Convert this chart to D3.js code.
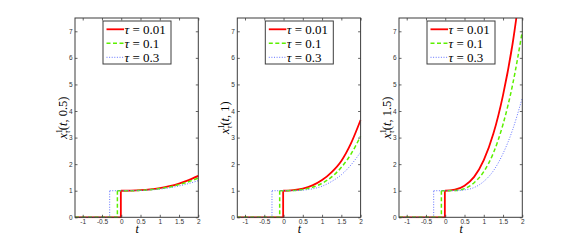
<!DOCTYPE html>
<html>
<head>
<meta charset="utf-8">
<script src="https://cdn.jsdelivr.net/npm/d3@7"></script>
<style>
  body { margin: 0; background: #fff; }
  svg { display: block; }
</style>
</head>
<body>
<div id="container"></div>
<script>
/* CONSTANTS AND GLOBALS */
const width = 578,
  height = 245;

const panelLeft = [75, 237.3, 399],
  panelTop = 18,
  panelW = 123.3,
  panelH = 199.3;

// DATA
const sValues = ["0.5", "1", "1.5"];
const tauValues = [0.01, 0.1, 0.3];
const tauLabels = ["0.01", "0.1", "0.3"];
const tGrid = [0, 0.25, 0.5, 0.75, 1, 1.25, 1.5, 1.75, 2];

// one list per panel (s) and per tau, values at tGrid
const panel1Red   = [1, 1.005, 1.02, 1.05, 1.1, 1.17, 1.27, 1.4, 1.56];
const panel1Green = [1, 1.0, 1.015, 1.04, 1.08, 1.14, 1.23, 1.34, 1.48];
const panel1Blue  = [1, 1.0, 1.01, 1.03, 1.06, 1.11, 1.18, 1.27, 1.38];

const panel2Red   = [1, 1.02, 1.08, 1.2, 1.4, 1.7, 2.12, 2.78, 3.66];
const panel2Green = [1, 1.01, 1.05, 1.13, 1.28, 1.52, 1.88, 2.38, 3.05];
const panel2Blue  = [1, 1.0, 1.02, 1.07, 1.17, 1.35, 1.6, 1.97, 2.45];

const panel3Red   = [1, 1.04, 1.19, 1.52, 2.15, 3.15, 4.6, 6.55, 9.2];
const panel3Green = [1, 1.01, 1.08, 1.3, 1.72, 2.42, 3.5, 5.0, 7.0];
const panel3Blue  = [1, 1.0, 1.03, 1.12, 1.35, 1.75, 2.4, 3.3, 4.5];

const panelSeries = [
  [panel1Red, panel1Green, panel1Blue],
  [panel2Red, panel2Green, panel2Blue],
  [panel3Red, panel3Green, panel3Blue]
];

const xTicks = [-1, -0.5, 0, 0.5, 1, 1.5, 2];
const yTicks = [0, 1, 2, 3, 4, 5, 6, 7];

const lineStyles = [
  { color: "#ff0000", w: 1.8, dash: null },
  { color: "#5cf000", w: 1.5, dash: "4,2.5" },
  { color: "#6272ff", w: 1, dash: "1,1.6" }
];

// SCALES
const xScale = d3.scaleLinear().domain([-1.2, 2]).range([0, panelW]);
const yScale = d3.scaleLinear().domain([0, 7.5]).range([panelH, 0]);

const svg = d3.select("#container").append("svg")
  .attr("width", width)
  .attr("height", height);

const stepLine = d3.line().x(d => xScale(d[0])).y(d => yScale(d[1]));
const smoothLine = d3.line()
  .x(d => xScale(d[0])).y(d => yScale(d[1]))
  .curve(d3.curveMonotoneX);

panelLeft.forEach((left, p) => {
  const g = svg.append("g").attr("transform", `translate(${left},${panelTop})`);

  g.append("clipPath").attr("id", "clip" + p)
    .append("rect").attr("x", -1).attr("y", 0).attr("width", panelW + 2).attr("height", panelH + 1);

  g.append("rect")
    .attr("width", panelW).attr("height", panelH)
    .attr("fill", "#fff");

  // curves
  const plot = g.append("g").attr("clip-path", `url(#clip${p})`);
  panelSeries[p].forEach((vals, k) => {
    const tau = tauValues[k];
    const st = lineStyles[k];
    const step = [[-1.2, 0], [-tau, 0], [-tau, 1]];
    const smooth = [[-tau, 1]].concat(tGrid.map((t, i) => [t, vals[i]]));
    [stepLine(step), smoothLine(smooth)].forEach(dd => {
      plot.append("path")
        .attr("d", dd)
        .attr("fill", "none")
        .attr("stroke", st.color)
        .attr("stroke-width", st.w)
        .attr("stroke-dasharray", st.dash);
    });
  });

  // axes, ticks inside on all four sides
  const axColor = "#3c3c3c";
  const bottom = g.append("g").attr("transform", `translate(0,${panelH})`)
    .call(d3.axisBottom(xScale).tickValues(xTicks).tickSize(-2.5).tickPadding(2.5)
      .tickFormat(d => String(d)));
  const top = g.append("g")
    .call(d3.axisTop(xScale).tickValues(xTicks).tickSize(-2.5).tickFormat(""));
  const leftAx = g.append("g")
    .call(d3.axisLeft(yScale).tickValues(yTicks).tickSize(-2.5).tickPadding(2.5));
  const rightAx = g.append("g").attr("transform", `translate(${panelW},0)`)
    .call(d3.axisRight(yScale).tickValues(yTicks).tickSize(-2.5).tickFormat(""));
  [bottom, top, leftAx, rightAx].forEach(a => {
    a.select(".domain").remove();
    a.selectAll("line").attr("stroke", axColor).attr("stroke-width", 0.8);
    a.selectAll("text")
      .attr("fill", "#333")
      .style("font-family", "'Liberation Sans', Arial, sans-serif")
      .style("font-size", "6.5px");
  });
  g.append("rect")
    .attr("width", panelW).attr("height", panelH)
    .attr("fill", "none").attr("stroke", axColor).attr("stroke-width", 1);

  // x label
  g.append("text")
    .attr("x", panelW / 2 + 0.5).attr("y", panelH + 15.5)
    .attr("text-anchor", "middle")
    .style("font-family", "'Liberation Serif', serif")
    .style("font-style", "italic")
    .style("font-size", "12px")
    .text("t");

  // y label
  const yl = g.append("text")
    .attr("transform", `translate(${-8},${panelH / 2}) rotate(-90)`)
    .attr("text-anchor", "middle")
    .style("font-family", "'Liberation Serif', serif")
    .style("font-size", "12.5px");
  yl.append("tspan").style("font-style", "italic").text("x");
  yl.append("tspan").attr("dy", -5).style("font-size", "8px").text("1");
  yl.append("tspan").attr("dx", -4).attr("dy", 8).style("font-size", "8px").style("font-style", "italic").text("τ");
  yl.append("tspan").attr("dy", -3).text("(");
  yl.append("tspan").style("font-style", "italic").text("t");
  yl.append("tspan").text(", " + sValues[p] + ")");

  // legend
  const lg = g.append("g").attr("transform", "translate(28,3)");
  lg.append("rect")
    .attr("width", 68).attr("height", 43)
    .attr("fill", "#fff").attr("stroke", axColor).attr("stroke-width", 1);
  tauLabels.forEach((lab, k) => {
    const st = lineStyles[k];
    const cy = 8.3 + k * 14;
    lg.append("line")
      .attr("x1", 3.5).attr("x2", 21).attr("y1", cy).attr("y2", cy)
      .attr("stroke", st.color).attr("stroke-width", st.w)
      .attr("stroke-dasharray", st.dash);
    const tx = lg.append("text")
      .attr("x", 21.5).attr("y", cy + 4.3)
      .style("font-family", "'Liberation Serif', serif")
      .style("font-size", "13px");
    tx.append("tspan").style("font-style", "italic").text("τ");
    tx.append("tspan").text(" = " + lab);
  });
});
</script>
</body>
</html>
